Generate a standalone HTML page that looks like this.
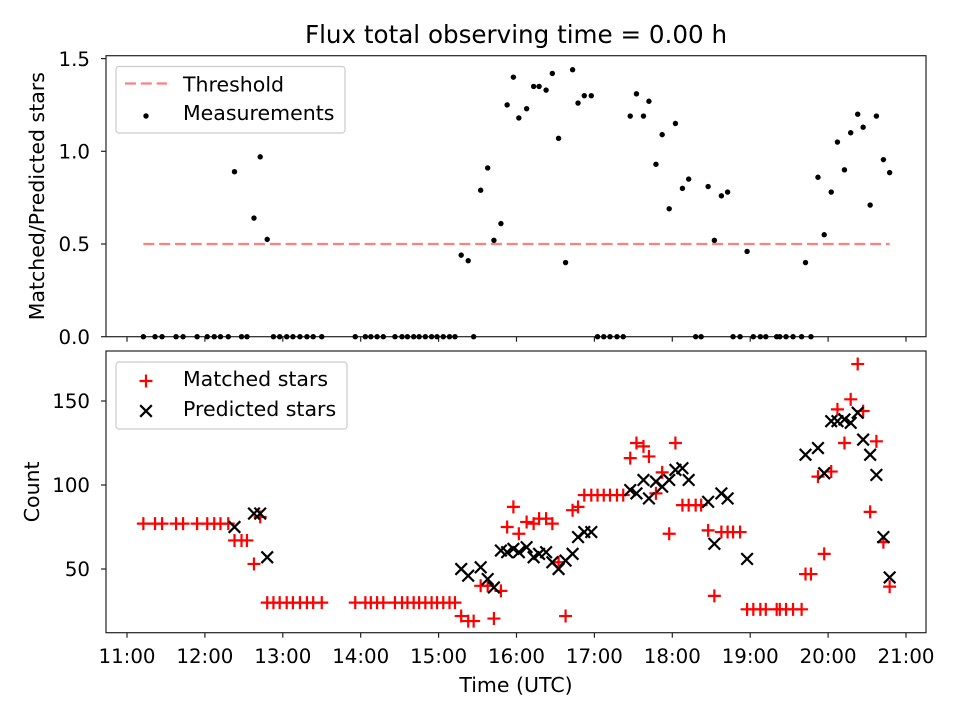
<!DOCTYPE html>
<html><head><meta charset="utf-8"><style>
html,body{margin:0;padding:0;background:#fff;}
svg{display:block;font-family:"DejaVu Sans","Liberation Sans",sans-serif;}
</style></head><body>
<svg id="chart" width="960" height="720" viewBox="0 0 960 720" xmlns="http://www.w3.org/2000/svg">
<rect width="960" height="720" fill="#fff"/>
<text x="516" y="43" font-size="24.6" text-anchor="middle" fill="#000">Flux total observing time = 0.00 h</text>
</svg>
<script>
// ---- data ----
const times = [11.21,11.36,11.45,11.63,11.72,11.90,12.03,12.12,12.20,12.30,12.38,12.47,12.54,12.63,12.71,12.80,12.88,12.96,13.05,13.13,13.22,13.31,13.39,13.50,
13.93,14.06,14.13,14.21,14.29,14.44,14.53,14.60,14.68,14.75,14.83,14.91,14.98,15.06,15.14,15.21,15.29,15.38,15.45,15.54,15.63,15.71,15.80,15.88,15.96,
16.03,16.13,16.22,16.29,16.38,16.46,16.54,16.63,16.72,16.79,16.87,16.96,17.04,17.12,17.20,17.29,17.37,17.46,17.54,17.63,17.70,17.79,17.87,17.96,
18.04,18.13,18.21,18.30,18.37,18.46,18.54,18.63,18.71,18.78,18.87,18.96,19.04,19.13,19.20,19.34,19.38,19.46,19.55,19.66,19.71,19.78,19.87,19.95,
20.04,20.12,20.21,20.29,20.38,20.45,20.54,20.62,20.71,20.79];
const ratioValues = [0,0,0,0,0,0,0,0,0,0,0.89,0,0,0.64,0.97,0.525,0,0,0,0,0,0,0,0,
0,0,0,0,0,0,0,0,0,0,0,0,0,0,0,0,0.44,0.41,0,0.79,0.91,0.52,0.61,1.25,1.40,
1.18,1.23,1.35,1.35,1.33,1.42,1.07,0.40,1.44,1.26,1.30,1.30,0,0,0,0,0,1.19,1.31,1.19,1.27,0.93,1.09,0.69,
1.15,0.80,0.85,0,0,0.81,0.52,0.76,0.78,0,0,0.46,0,0,0,0,0,0,0,0,0.40,0,0.86,0.55,
0.78,1.05,0.90,1.10,1.20,1.13,0.71,1.19,0.955,0.885];
const matchedValues = [77,77,77,77,77,77,77,77,77,77,67,67,67,53,81,30,30,30,30,30,30,30,30,30,
30,30,30,30,30,30,30,30,30,30,30,30,30,30,30,30,22,19,19,40,40,20.5,37,75,87,
71,78,77,80,80,77,54,22,85,87,94,94,94,94,94,94,94,116,125,123,117,95,107.5,71,
125,88,88,88,88,73,34,72,72,72,72,26,26,26,26,26,26,26,26,26,47,47,105,59,
108,145,125,151,172,144,84,126,66,39.5];
const predictedValues = [null,null,null,null,null,null,null,null,null,null,75,null,null,83,83,57,null,null,null,null,null,null,null,null,
null,null,null,null,null,null,null,null,null,null,null,null,null,null,null,null,50,46,null,51,44,39,61,60,62,
60,63,57,59,60,54,50,55,59,69,72,72,null,null,null,null,null,97,95,103,92,102,99,103,
109,110,103,null,null,90,65,95,92,null,null,56,null,null,null,null,null,null,null,null,118,null,122,107,
138,138,139,137,143,127,118,106,69,45];
const threshold = 0.5;
const thresholdRange = [11.21, 20.79];
const xTickHours = [11,12,13,14,15,16,17,18,19,20,21];
const xTickLabels = ["11:00","12:00","13:00","14:00","15:00","16:00","17:00","18:00","19:00","20:00","21:00"];
const topTicks = [0,0.5,1.0,1.5];
const topTickLabels = ["0.0","0.5","1.0","1.5"];
const botTicks = [50,100,150];
const botTickLabels = ["50","100","150"];

// ---- axes ----
const L=106,R=926, T1=55.7,B1=336.7, T2=351,B2=632.7;
const xs = h => 127 + (h-11)*77.9;
const y1 = v => 336.7 - v*185.4;
const y2 = c => 569 - (c-50)*1.68;
const NS="http://www.w3.org/2000/svg";
const svg=document.getElementById('chart');
function mk(tag,attrs,parent){const e=document.createElementNS(NS,tag);for(const k in attrs)e.setAttribute(k,attrs[k]);(parent||svg).appendChild(e);return e;}
const TF=19.8;

const f1=mk('rect',{x:L,y:T1,width:R-L,height:B1-T1,fill:'none',stroke:'#222','stroke-width':1.2});


const f2=mk('rect',{x:L,y:T2,width:R-L,height:B2-T2,fill:'none',stroke:'#222','stroke-width':1.2});



xTickHours.forEach((h,i)=>{
  const x=xs(h);
  const t1=mk('line',{x1:x,y1:B1,x2:x,y2:B1+5,stroke:'#222','stroke-width':1.2});
  
  
  const t2=mk('line',{x1:x,y1:B2,x2:x,y2:B2+5,stroke:'#222','stroke-width':1.2});
  
  
  const tl=mk('text',{x:x,y:663,'font-size':TF,'text-anchor':'middle',fill:'#000'});
  tl.textContent=xTickLabels[i];
  
  
});
topTicks.forEach((v,i)=>{
  const y=y1(v);
  const t=mk('line',{x1:L-5,y1:y,x2:L,y2:y,stroke:'#222','stroke-width':1.2});
  
  
  const tl=mk('text',{x:L-16,y:y+7.2,'font-size':TF,'text-anchor':'end',fill:'#000'});
  tl.textContent=topTickLabels[i];
  
  
});
botTicks.forEach((v,i)=>{
  const y=y2(v);
  const t=mk('line',{x1:L-5,y1:y,x2:L,y2:y,stroke:'#222','stroke-width':1.2});
  
  
  const tl=mk('text',{x:L-16,y:y+7.2,'font-size':TF,'text-anchor':'end',fill:'#000'});
  tl.textContent=botTickLabels[i];
  
  
});
const yt1=mk('text',{x:0,y:0,'font-size':20.5,'text-anchor':'middle',fill:'#000',transform:`translate(44,${(T1+B1)/2}) rotate(-90)`});
yt1.textContent='Matched/Predicted stars';


const yt2=mk('text',{x:0,y:0,'font-size':20.5,'text-anchor':'middle',fill:'#000',transform:`translate(39,${(T2+B2)/2}) rotate(-90)`});
yt2.textContent='Count';


const xt=mk('text',{x:516,y:692,'font-size':20.5,'text-anchor':'middle',fill:'#000'});
xt.textContent='Time (UTC)';



const th=mk('line',{x1:xs(thresholdRange[0]),y1:y1(threshold),x2:xs(thresholdRange[1]),y2:y1(threshold),stroke:'#ff7f7f','stroke-width':2.2,'stroke-dasharray':'11,4.8'});



times.forEach((h,i)=>{
  const c=mk('circle',{cx:xs(h),cy:y1(ratioValues[i]),r:2.7,fill:'#000'});
  
  
});
function plus(x,y,col,parent){return mk('path',{d:`M${x-6.5},${y}H${x+6.5}M${x},${y-6.5}V${y+6.5}`,stroke:col,'stroke-width':2.2,fill:'none'},parent);}
function cross(x,y,col,parent){return mk('path',{d:`M${x-5.8},${y-5.8}L${x+5.8},${y+5.8}M${x-5.8},${y+5.8}L${x+5.8},${y-5.8}`,stroke:col,'stroke-width':2.2,fill:'none'},parent);}
times.forEach((h,i)=>{
  const p=plus(xs(h),y2(matchedValues[i]),'#ff0000');
  
  
});
times.forEach((h,i)=>{
  if(predictedValues[i]==null)return;
  const p=cross(xs(h),y2(predictedValues[i]),'#000');
  
  
});

const lg1=mk('g',{});


mk('rect',{x:116,y:66.5,width:229,height:66.5,rx:3,fill:'#fff','fill-opacity':0.8,stroke:'#ccc','stroke-width':1.2},lg1);
mk('line',{x1:125,y1:83.5,x2:167,y2:83.5,stroke:'#ff7f7f','stroke-width':2.2,'stroke-dasharray':'11,4.8'},lg1);
mk('circle',{cx:146,cy:116,r:2.7,fill:'#000'},lg1);
const l1a=mk('text',{x:183,y:91.5,'font-size':20.5,fill:'#000'},lg1);l1a.textContent='Threshold';
const l1b=mk('text',{x:183,y:120,'font-size':20.5,fill:'#000'},lg1);l1b.textContent='Measurements';
const lg2=mk('g',{});


mk('rect',{x:116,y:362,width:231,height:67,rx:3,fill:'#fff','fill-opacity':0.8,stroke:'#ccc','stroke-width':1.2},lg2);
plus(146,381,'#ff0000',lg2);
cross(146,411,'#000',lg2);
const l2a=mk('text',{x:183,y:386,'font-size':20.5,fill:'#000'},lg2);l2a.textContent='Matched stars';
const l2b=mk('text',{x:183,y:416,'font-size':20.5,fill:'#000'},lg2);l2b.textContent='Predicted stars';
</script>
</body></html>
